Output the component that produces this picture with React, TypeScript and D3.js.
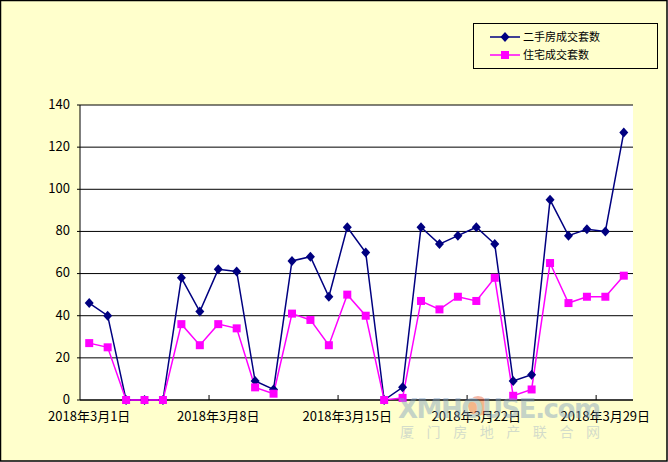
import React from "react";
import * as d3 from "d3";

const dates: string[] = Array.from({ length: 30 }, (_, i) => `2018年3月${i + 1}日`);
const secondHand: number[] = [46, 40, 0, 0, 0, 58, 42, 62, 61, 9, 5, 66, 68, 49, 82, 70, 0, 6, 82, 74, 78, 82, 74, 9, 12, 95, 78, 81, 80, 127];
const residential: number[] = [27, 25, 0, 0, 0, 36, 26, 36, 34, 6, 3, 41, 38, 26, 50, 40, 0, 1, 47, 43, 49, 47, 58, 2, 5, 65, 46, 49, 49, 59];
const yTicks: number[] = [0, 20, 40, 60, 80, 100, 120, 140];
const labelEvery = 7;
const seriesNames: string[] = ["二手房成交套数", "住宅成交套数"];

const W = 668, H = 462;
const plot = { left: 80, top: 105, right: 633, bottom: 400 };
const font = "'Noto Sans CJK SC', 'Noto Sans', sans-serif";
const diamond = "M0,-5L4.5,0L0,5L-4.5,0Z";

export default function App() {
  const x = d3.scaleBand<string>().domain(dates).range([plot.left, plot.right]);
  const cx = (d: string) => (x(d) as number) + x.bandwidth() / 2;
  const y = d3.scaleLinear().domain([0, 140]).range([plot.bottom, plot.top]);
  const line = d3.line<number>().x((_, i) => cx(dates[i])).y((v) => y(v));

  return (
    <div style={{ position: "fixed", left: 0, top: 0 }}>
      <svg width={W} height={H} style={{ display: "block" }}>
        <rect x={0.5} y={0.5} width={W - 1.5} height={H - 1.5} fill="#FFFFCC" stroke="#000" strokeWidth={1.5} />
        <rect x={plot.left} y={plot.top} width={plot.right - plot.left} height={plot.bottom - plot.top} fill="#fff" />
        {yTicks.map((t) => (
          <g key={t}>
            <line x1={plot.left - 3} x2={plot.right} y1={y(t)} y2={y(t)} stroke="#000" strokeWidth={1} />
            <text x={plot.left - 10} y={y(t)} dy="0.3em" textAnchor="end" fontSize={13} fontFamily={font}>{t}</text>
          </g>
        ))}
        <line x1={plot.left} x2={plot.left} y1={plot.top} y2={plot.bottom} stroke="#000" />
        <line x1={plot.left} x2={plot.right} y1={plot.bottom} y2={plot.bottom} stroke="#000" strokeWidth={1.2} />
        {dates.map((d, i) =>
          i % labelEvery === 0 ? (
            <g key={d}>
              {i > 0 && <line x1={x(d)} x2={x(d)} y1={plot.bottom - 5} y2={plot.bottom} stroke="#000" />}
              <text x={cx(d)} y={plot.bottom + 21} textAnchor="middle" fontSize={13} fontFamily={font}>{d}</text>
            </g>
          ) : null
        )}
        <path d={line(secondHand) as string} fill="none" stroke="#000080" strokeWidth={1.5} />
        <path d={line(residential) as string} fill="none" stroke="#FF00FF" strokeWidth={1.5} />
        {secondHand.map((v, i) => (
          <path key={"a" + i} d={diamond} transform={`translate(${cx(dates[i])},${y(v)})`} fill="#000080" />
        ))}
        {residential.map((v, i) => (
          <rect key={"b" + i} x={cx(dates[i]) - 4} y={y(v) - 4} width={8} height={8} fill="#FF00FF" />
        ))}
        {/* watermark */}
        <g opacity={0.45} fontFamily={font}>
          <circle cx={478} cy={406} r={10} fill="#e8603a" />
          <text x={398} y={418} fontSize={26} fontWeight="bold" fill="#7f9fbf" fontFamily="'DejaVu Sans', sans-serif" textLength={203}>XMHOUSE.com</text>
          <text x={400} y={437} fontSize={14} fill="#9fb3c8" textLength={200} lengthAdjust="spacing">厦门房地产联合网</text>
        </g>
        {/* legend */}
        <rect x={473.5} y={23.5} width={184} height={45} fill="#FFFFCC" stroke="#000" />
        {seriesNames.map((n, i) => {
          const ly = 37 + i * 18;
          const color = i === 0 ? "#000080" : "#FF00FF";
          return (
            <g key={n}>
              <line x1={490} x2={520} y1={ly} y2={ly} stroke={color} strokeWidth={1.5} />
              {i === 0 ? (
                <path d={diamond} transform={`translate(505,${ly})`} fill={color} />
              ) : (
                <rect x={501} y={ly - 4} width={8} height={8} fill={color} />
              )}
              <text x={523} y={ly} dy="0.35em" fontSize={11} fontFamily={font}>{n}</text>
            </g>
          );
        })}
      </svg>
    </div>
  );
}
